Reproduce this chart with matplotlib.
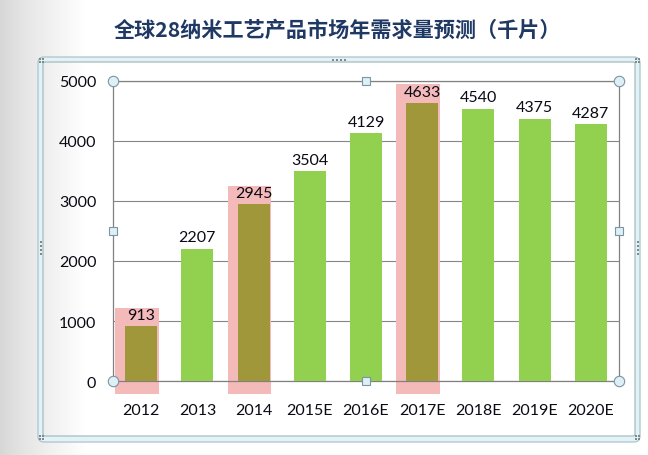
import numpy as np
import matplotlib
matplotlib.use("Agg")
import matplotlib.pyplot as plt
from matplotlib.patches import Rectangle, FancyBboxPatch

plt.rcParams['font.family'] = ['Lato', 'Noto Sans CJK SC', 'DejaVu Sans']

# ---- data ----
categories = ['2012', '2013', '2014', '2015E', '2016E', '2017E', '2018E', '2019E', '2020E']
values = [913, 2207, 2945, 3504, 4129, 4633, 4540, 4375, 4287]
highlighted = ['2012', '2014', '2017E']
title = '全球28纳米工艺产品市场年需求量预测（千片）'
y_ticks = [0, 1000, 2000, 3000, 4000, 5000]

GREEN = '#92D050'
OLIVE = '#A0963A'
PINK = '#F4B9B9'
GRID = '#868686'

W, H = 648, 456
fig = plt.figure(figsize=(W / 100, H / 100), dpi=100)

# ---- background (gradient + chart object frame) ----
bg = fig.add_axes([0, 0, 1, 1], zorder=0)
bg.set_xlim(0, W)
bg.set_ylim(H, 0)
bg.axis('off')
xs = np.linspace(0, 1, W)
g = 0.84 + 0.16 * np.clip(xs * W / 85.0, 0, 1) ** 0.8
img = np.tile(g, (H, 1))
bg.imshow(np.dstack([img, img, img]), extent=[0, W, H, 0], aspect='auto', zorder=0)

band = FancyBboxPatch((40.5, 60.5), 597, 379.5, boxstyle='round,pad=0,rounding_size=4',
                      fill=False, edgecolor='#E0F3F6', linewidth=3.6, zorder=1)
bg.add_patch(band)
outer = FancyBboxPatch((38, 58), 602, 385, boxstyle='round,pad=0,rounding_size=6',
                       fill=False, edgecolor='#ADC3C8', linewidth=0.9, zorder=2)
bg.add_patch(outer)
inner = FancyBboxPatch((43, 63), 592, 374, boxstyle='round,pad=0,rounding_size=2',
                       fill=False, edgecolor='#A8BABF', linewidth=0.9, zorder=2)
bg.add_patch(inner)
# grip dots on the frame
dot_kw = dict(color='#7F8A8E', s=2.2, marker='s', linewidths=0, zorder=3)
bg.scatter([333, 337, 341, 345], [61, 61, 61, 61], **dot_kw)
bg.scatter([40.5] * 4, [243, 247, 251, 255], **dot_kw)
bg.scatter([637.5] * 4, [243, 247, 251, 255], **dot_kw)
for cx, cy in [(40, 61), (636, 61), (40, 439), (636, 439)]:
    bg.scatter([cx, cx + 3, cx, cx + 3], [cy - 1.5, cy - 1.5, cy + 1.5, cy + 1.5], **dot_kw)

fig.text(337 / W, 1 - 30 / H, title, ha='center', va='center', fontsize=15.2,
         fontweight='bold', color='#1F3864', family=['Noto Sans CJK SC', 'DejaVu Sans'])

# ---- plot area ----
ax = fig.add_axes([113 / W, 1 - 382 / H, 506 / W, 300 / H], zorder=2)
ax.set_facecolor('white')
x = np.arange(len(categories))
colors = [OLIVE if c in highlighted else GREEN for c in categories]

for i, c in enumerate(categories):
    if c in highlighted:
        ax.add_patch(Rectangle((i - 0.46, -210), 0.77, values[i] + 210 + 310,
                               facecolor=PINK, edgecolor='none', zorder=1, clip_on=False))

ax.bar(x, values, width=0.57, color=colors, zorder=3)
for i, v in enumerate(values):
    ax.annotate(f'{v}', (x[i], v), xytext=(0, 3), textcoords='offset points',
                ha='center', va='bottom', fontsize=11.5, color='#0A0A14', zorder=4)

ax.set_xlim(-0.5, len(categories) - 0.5)
ax.set_ylim(0, 5000)
ax.set_yticks(y_ticks)
ax.set_yticklabels([str(t) for t in y_ticks])
ax.set_xticks(x)
ax.set_xticklabels(categories)
ax.tick_params(axis='both', length=0, labelsize=11.5, labelcolor='#0A0A14')
ax.tick_params(axis='y', pad=12)
ax.tick_params(axis='x', pad=16)
ax.yaxis.grid(True, color=GRID, linewidth=0.8, zorder=0)
ax.set_axisbelow(True)
for s in ax.spines.values():
    s.set_color('#808080')
    s.set_linewidth(0.9)

# selection handles on plot area
hk = dict(transform=ax.transAxes, clip_on=False, linestyle='none', zorder=10,
          markerfacecolor='#DDF0F6', markeredgecolor='#7D93A6', markeredgewidth=0.8)
ax.plot([0, 1, 0, 1], [0, 0, 1, 1], marker='o', markersize=7.5, **hk)
ax.plot([0.5, 0.5, 0, 1], [0, 1, 0.5, 0.5], marker='s', markersize=5.8, **hk)

fig.savefig('out.png', dpi=100)
